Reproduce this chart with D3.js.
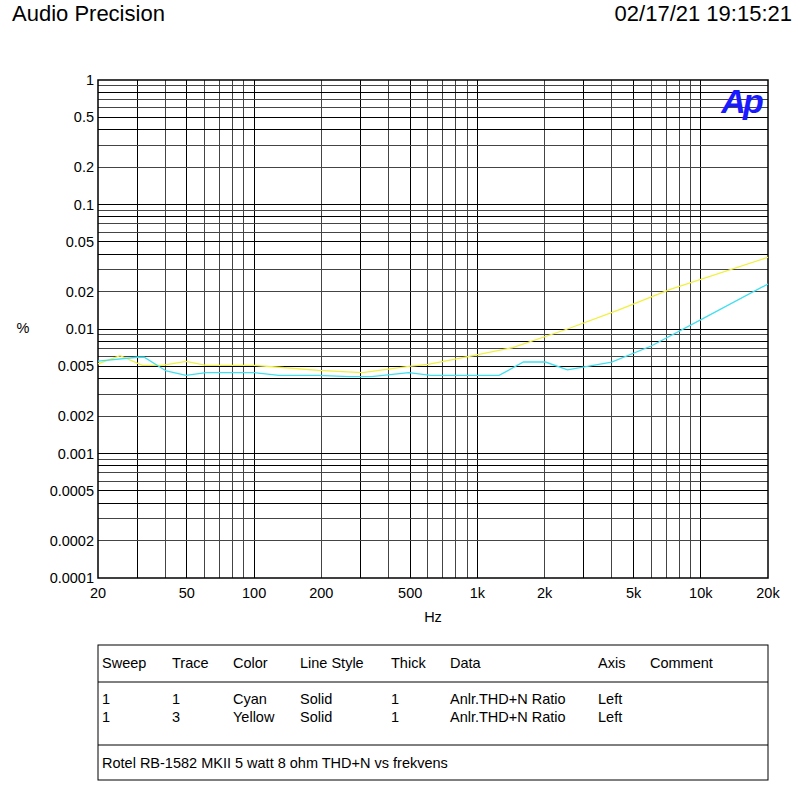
<!DOCTYPE html><html><head><meta charset="utf-8">
<script src="https://cdn.jsdelivr.net/npm/d3@7"></script>
<style>body{margin:0;background:#fff}text{font-family:Arial,"Liberation Sans",sans-serif}</style></head><body>
<svg id="c" width="805" height="791"></svg>
<script>
const cyanFreq=[20,30.1,32.2,40.4,49.6,60.9,100,129,194,267,335,493,618,1250,1607,2017,2530,3105,3990,6000,10120,20000];
const cyanVal=[0.00553,0.00593,0.00593,0.0046,0.00424,0.00446,0.00446,0.00424,0.00424,0.00414,0.00414,0.00446,0.00424,0.00424,0.00543,0.00543,0.00469,0.005,0.00543,0.0073,0.012,0.023];
const yellowFreq=[20,25.1,31.6,38.7,49.6,60.9,100,129,194,306,493,601,908,1426,2530,4240,7300,20000];
const yellowVal=[0.00524,0.0061,0.00511,0.00511,0.0055,0.00511,0.00511,0.00493,0.00465,0.00446,0.005,0.0052,0.006,0.00707,0.01,0.0141,0.0208,0.0377];
const yTicks=[1,0.5,0.2,0.1,0.05,0.02,0.01,0.005,0.002,0.001,0.0005,0.0002,0.0001];
const xTicks=[20,50,100,200,500,1000,2000,5000,10000,20000];
const xTickLabels=["20","50","100","200","500","1k","2k","5k","10k","20k"];
const tableHeader=["Sweep","Trace","Color","Line Style","Thick","Data","Axis","Comment"];
const tableRows=[["1","1","Cyan","Solid","1","Anlr.THD+N Ratio","Left",""],["1","3","Yellow","Solid","1","Anlr.THD+N Ratio","Left",""]];
const comment="Rotel RB-1582 MKII 5 watt 8 ohm THD+N vs frekvens";

const svg=d3.select("#c");
const L=98,R=768,T=80,B=578;
const x=d3.scaleLog().domain([20,20000]).range([L,R]);
const y=d3.scaleLog().domain([0.0001,1]).range([B,T]);
svg.append("text").attr("x",12).attr("y",21).attr("font-size",22).text("Audio Precision");
svg.append("text").attr("x",792).attr("y",21).attr("font-size",22).attr("text-anchor","end").text("02/17/21 19:15:21");
const g=svg.append("g");
const xg=[];for(let d=10;d<20000;d*=10)for(let m=1;m<10;m++){const v=d*m;if(v>20&&v<20000)xg.push(v);}
xg.forEach(v=>{const m=Math.round(v/Math.pow(10,Math.floor(Math.log10(v)+1e-9)));
 g.append("line").attr("x1",x(v)).attr("x2",x(v)).attr("y1",T).attr("y2",B).attr("stroke",(m==1||m==5||m==3)?"#000":"#444").attr("stroke-width",1).attr("shape-rendering","crispEdges");});
const yg=[];for(let d=0.0001;d<1;d*=10)for(let m=1;m<10;m++){const v=d*m;if(v>0.0001*1.01&&v<0.999)yg.push(v);}
yg.forEach(v=>{const m=Math.round(v/Math.pow(10,Math.floor(Math.log10(v)+1e-9)));
 g.append("line").attr("x1",L).attr("x2",R).attr("y1",y(v)).attr("y2",y(v)).attr("stroke",(m==1||m==5||m==4||m==8)?"#000":"#444").attr("stroke-width",1).attr("shape-rendering","crispEdges");});
g.append("rect").attr("x",L).attr("y",T).attr("width",R-L).attr("height",B-T).attr("fill","none").attr("stroke","#000").attr("stroke-width",1.5);
yTicks.forEach(v=>svg.append("text").attr("x",94).attr("y",y(v)+5).attr("font-size",14.5).attr("text-anchor","end").text(String(v)));
xTicks.forEach((v,i)=>svg.append("text").attr("x",x(v)).attr("y",598).attr("font-size",14.5).attr("text-anchor","middle").text(xTickLabels[i]));
svg.append("text").attr("x",23).attr("y",333).attr("font-size",14.5).attr("text-anchor","middle").text("%");
svg.append("text").attr("x",433).attr("y",622).attr("font-size",14.5).attr("text-anchor","middle").text("Hz");
svg.append("text").attr("x",741).attr("y",113).attr("font-size",34).attr("font-weight","bold").attr("font-style","italic").attr("fill","#1a1aff").attr("text-anchor","middle").attr("letter-spacing",-3).text("Ap");
const line=d3.line().x(d=>x(d[0])).y(d=>y(d[1]));
svg.append("path").attr("d",line(yellowFreq.map((f,i)=>[f,yellowVal[i]]))).attr("fill","none").attr("stroke","#f0f040").attr("stroke-width",1.3);
svg.append("path").attr("d",line(cyanFreq.map((f,i)=>[f,cyanVal[i]]))).attr("fill","none").attr("stroke","#40e0f0").attr("stroke-width",1.3);
const tb=svg.append("g");
tb.append("rect").attr("x",98).attr("y",645).attr("width",670).attr("height",135).attr("fill","none").attr("stroke","#000");
[682,745].forEach(yy=>tb.append("line").attr("x1",98).attr("x2",768).attr("y1",yy).attr("y2",yy).attr("stroke","#000"));
const cols=[102,172,233,300,391,450,598,650];
tableHeader.forEach((t,i)=>tb.append("text").attr("x",cols[i]).attr("y",668).attr("font-size",14.5).text(t));
tableRows.forEach((r,j)=>r.forEach((t,i)=>tb.append("text").attr("x",cols[i]).attr("y",704+j*18).attr("font-size",14.5).text(t)));
tb.append("text").attr("x",102).attr("y",768).attr("font-size",14.5).text(comment);
</script></body></html>
